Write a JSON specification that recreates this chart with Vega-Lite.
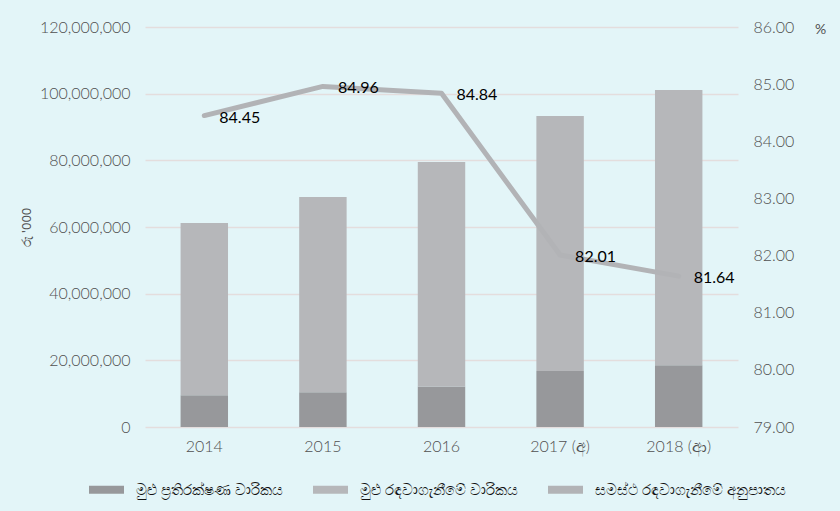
{
  "$schema": "https://vega.github.io/schema/vega-lite/v6.json",
  "width": 593,
  "height": 400,
  "autosize": {"type": "none"},
  "padding": {"left": 145, "top": 27, "right": 102, "bottom": 84},
  "background": "#e3f5f8",
  "config": {
    "view": {"stroke": null},
    "font": "Lato",
    "axis": {"labelFont": "Lato", "labelFontSize": 16, "labelFontWeight": 300, "labelColor": "#505050", "ticks": false, "domain": false}
  },
  "datasets": {
    "bars": [
      {"year": "2014", "series": "මුළු ප්\u200dරතිරක්ෂණ වාරිකය", "value": 9500000, "o": 1},
      {"year": "2014", "series": "මුළු රඳවාගැනීමේ වාරිකය", "value": 51700000, "o": 2},
      {"year": "2015", "series": "මුළු ප්\u200dරතිරක්ෂණ වාරිකය", "value": 10400000, "o": 1},
      {"year": "2015", "series": "මුළු රඳවාගැනීමේ වාරිකය", "value": 58600000, "o": 2},
      {"year": "2016", "series": "මුළු ප්\u200dරතිරක්ෂණ වාරිකය", "value": 12100000, "o": 1},
      {"year": "2016", "series": "මුළු රඳවාගැනීමේ වාරිකය", "value": 67400000, "o": 2},
      {"year": "2017 (අ)", "series": "මුළු ප්\u200dරතිරක්ෂණ වාරිකය", "value": 16800000, "o": 1},
      {"year": "2017 (අ)", "series": "මුළු රඳවාගැනීමේ වාරිකය", "value": 76500000, "o": 2},
      {"year": "2018 (ආ)", "series": "මුළු ප්\u200dරතිරක්ෂණ වාරිකය", "value": 18500000, "o": 1},
      {"year": "2018 (ආ)", "series": "මුළු රඳවාගැනීමේ වාරිකය", "value": 82600000, "o": 2}
    ],
    "ratio": [
      {"year": "2014", "series": "සමස්ථ රඳවාගැනීමේ අනුපාතය", "ratio": 84.45},
      {"year": "2015", "series": "සමස්ථ රඳවාගැනීමේ අනුපාතය", "ratio": 84.96},
      {"year": "2016", "series": "සමස්ථ රඳවාගැනීමේ අනුපාතය", "ratio": 84.84},
      {"year": "2017 (අ)", "series": "සමස්ථ රඳවාගැනීමේ අනුපාතය", "ratio": 82.01},
      {"year": "2018 (ආ)", "series": "සමස්ථ රඳවාගැනීමේ අනුපාතය", "ratio": 81.64}
    ]
  },
  "encoding": {
    "x": {
      "field": "year", "type": "nominal", "sort": null,
      "scale": {"paddingInner": 0.6, "paddingOuter": 0.3},
      "axis": {"title": null, "labelAngle": 0, "labelPadding": 11, "grid": false}
    }
  },
  "layer": [
    {
      "data": {"name": "bars"},
      "mark": {"type": "bar"},
      "encoding": {
        "y": {
          "field": "value", "type": "quantitative", "stack": "zero",
          "scale": {"domain": [0, 120000000]},
          "axis": {
            "title": "රු '000", "titleFont": "Noto Sans", "titleFontSize": 13, "titleFontWeight": "normal", "titleColor": "#505050",
            "titlePadding": 6, "values": [0, 20000000, 40000000, 60000000, 80000000, 100000000, 120000000],
            "format": ",d", "labelPadding": 15, "grid": true, "gridColor": "#e4dddd", "gridWidth": 1.5
          }
        },
        "color": {
          "field": "series", "type": "nominal",
          "scale": {
            "domain": ["මුළු ප්\u200dරතිරක්ෂණ වාරිකය", "මුළු රඳවාගැනීමේ වාරිකය", "සමස්ථ රඳවාගැනීමේ අනුපාතය"],
            "range": ["#97989b", "#b6b7ba", "#b2b3b6"]
          },
          "legend": {
            "title": null, "orient": "none", "direction": "horizontal", "legendX": -60, "legendY": 441,
            "symbolType": "stroke", "symbolStrokeWidth": 8, "symbolSize": 1225,
            "labelFontSize": 15, "labelColor": "#111111", "labelLimit": 400, "columnPadding": 14, "labelOffset": 8
          }
        },
        "order": {"field": "o", "type": "quantitative"}
      }
    },
    {
      "data": {"name": "ratio"},
      "mark": {"type": "line", "strokeWidth": 5, "strokeCap": "round", "strokeJoin": "round"},
      "encoding": {
        "y": {
          "field": "ratio", "type": "quantitative",
          "scale": {"domain": [79, 86], "zero": false},
          "axis": {
            "orient": "right", "values": [79, 80, 81, 82, 83, 84, 85, 86], "format": ".2f",
            "labelPadding": 15, "grid": false,
            "title": "%", "titleAngle": 0, "titleX": 82, "titleY": 2, "titleBaseline": "middle", "titleAlign": "center",
            "titleFontSize": 14, "titleFontWeight": "normal", "titleColor": "#505050"
          }
        },
        "color": {"field": "series", "type": "nominal"}
      }
    },
    {
      "data": {"name": "ratio"},
      "mark": {"type": "text", "align": "left", "dx": 15, "dy": 2, "font": "Lato", "fontSize": 16, "color": "#000000"},
      "encoding": {
        "y": {"field": "ratio", "type": "quantitative", "scale": {"domain": [79, 86]}, "axis": null},
        "text": {"field": "ratio", "type": "quantitative", "format": ".2f"}
      }
    }
  ],
  "resolve": {"scale": {"y": "independent"}}
}
